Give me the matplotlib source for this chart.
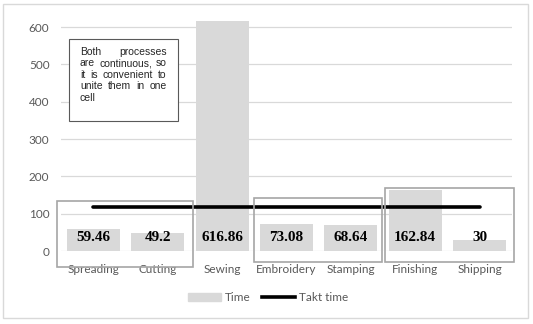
import matplotlib
matplotlib.use("Agg")
import matplotlib.pyplot as plt
from matplotlib.patches import Rectangle
from matplotlib.lines import Line2D

# data
processes = ["Spreading", "Cutting", "Sewing", "Embroidery", "Stamping", "Finishing", "Shipping"]
times = [59.46, 49.2, 616.86, 73.08, 68.64, 162.84, 30]
time_labels = ["59.46", "49.2", "616.86", "73.08", "68.64", "162.84", "30"]
takt_time = [117] * len(processes)
y_ticks = [0, 100, 200, 300, 400, 500, 600]
note_lines = ["Both processes", "are continuous, so", "it is convenient to",
              "unite them in one", "cell"]

tick_font = "Lato"
grey_txt = "#595959"

fig = plt.figure(figsize=(5.33, 3.24), dpi=100)
ax = fig.add_axes([0.115, 0.2253, 0.845, 0.72])

x = list(range(len(processes)))
ax.bar(x, times, width=0.82, color="#d9d9d9", zorder=2, label="Time")
ax.plot(x, takt_time, color="black", lw=2.6, solid_capstyle="round", zorder=3, label="Takt time")

for xi, lab in zip(x, time_labels):
    ax.text(xi, 37, lab, ha="center", va="center", fontsize=11, fontweight="bold",
            family="Liberation Serif", color="black", zorder=4)

ax.set_xlim(-0.5, len(processes) - 0.5)
ax.set_ylim(0, 625)
ax.set_yticks(y_ticks)
ax.set_xticks(x)
ax.set_xticklabels(processes)
ax.grid(axis="y", color="#d9d9d9", lw=0.9, zorder=0)
for s in ax.spines.values():
    s.set_visible(False)
ax.tick_params(length=0, labelsize=8.5, labelcolor=grey_txt, pad=8.5)
ax.tick_params(axis="x", pad=9.5)
for t in ax.get_xticklabels() + ax.get_yticklabels():
    t.set_family(tick_font)

# group boxes
for (x0, x1, y0, y1) in [(-0.563, 1.543, -43.6, 134.7),
                         (2.496, 4.482, -28.6, 142.7),
                         (4.533, 6.54, -28.6, 167.9)]:
    ax.add_patch(Rectangle((x0, y0), x1 - x0, y1 - y0, fill=False, ec="#a6a6a6",
                           lw=1.2, clip_on=False, zorder=5))

# note box
ax.add_patch(Rectangle((-0.376, 348.9), 1.685, 218.7, fill=True, fc="white",
                       ec="#595959", lw=0.8, zorder=5))

# justified note text
fig.canvas.draw()
renderer = fig.canvas.get_renderer()
left, right = -0.21, 1.138
inv = ax.transData.inverted()
y_line = 534
note_size = 7.5
for i, line in enumerate(note_lines):
    words = line.split()
    y = y_line - i * 30.8
    last = i == len(note_lines) - 1
    if len(words) == 1 or last:
        ax.text(left, y, line, ha="left", va="center", fontsize=note_size,
                family="Liberation Sans", color="#262626", zorder=6)
        continue
    objs = [ax.text(0, y, w, ha="left", va="center", fontsize=note_size,
                    family="Liberation Sans", color="#262626", zorder=6) for w in words]
    widths = []
    for o in objs:
        bb = o.get_window_extent(renderer)
        p0 = inv.transform((bb.x0, bb.y0))
        p1 = inv.transform((bb.x1, bb.y0))
        widths.append(p1[0] - p0[0])
    gap = (right - left - sum(widths)) / (len(words) - 1)
    pos = left
    for o, w in zip(objs, widths):
        o.set_x(pos)
        pos += w + gap

# legend
handles = [Rectangle((0, 0), 1, 1, color="#d9d9d9"),
           Line2D([0], [0], color="black", lw=2.6)]
leg = fig.legend(handles, ["Time", "Takt time"], loc="center", bbox_to_anchor=(0.503, 0.081),
                 ncol=2, frameon=False, fontsize=8.5, handlelength=2.8, handleheight=0.6,
                 columnspacing=1.0, handletextpad=0.3)
for t in leg.get_texts():
    t.set_color(grey_txt)
    t.set_family(tick_font)

# outer frame
fig.patches.append(Rectangle((3 / 533, 6 / 324), 525 / 533, 314 / 324, transform=fig.transFigure,
                             fill=False, ec="#d9d9d9", lw=1.0))

fig.savefig("out.png", dpi=100)
